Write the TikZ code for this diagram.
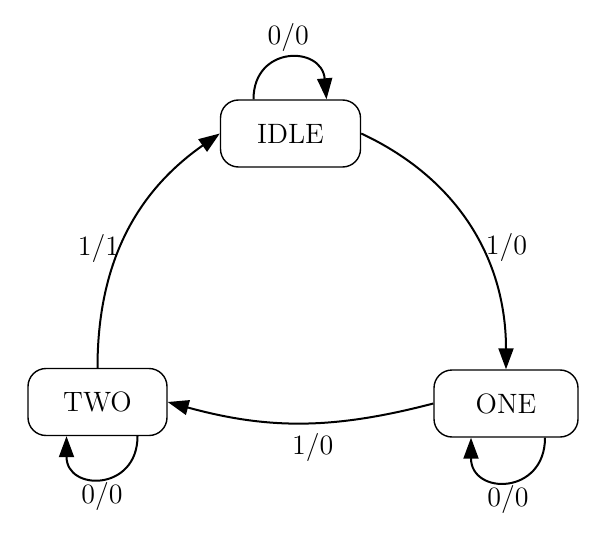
\documentclass[tikz,border=0pt]{standalone}
\usetikzlibrary{arrows.meta, positioning, calc}

\begin{document}
\begin{tikzpicture}[
    x=0.5pt, y=0.5pt,
    state/.style={draw, line width=0.7pt, rounded corners=9pt, minimum width=70pt, minimum height=33.5pt, align=center, font=\fontsize{14}{16}\selectfont},
    arrow/.style={-{Triangle[length=10.5pt, width=7.5pt]}, line width=1pt},
    lbl/.style={font=\fontsize{14}{16}\selectfont}
]
\useasboundingbox (0,0) rectangle (599,547);

% States
\node[state] (idle) at (290.5,413.5) {IDLE};
\node[state, minimum width=72pt] (one) at (506,143.5) {ONE};
\node[state, minimum width=69.5pt] (two) at (97.5,145) {TWO};

% Loop ends
\coordinate (idleL) at ($(idle.north)+(-37,0)$);
\coordinate (idleR) at ($(idle.north)+(36,0)$);
\coordinate (oneR) at ($(one.south)+(39,0)$);
\coordinate (oneL) at ($(one.south)+(-35,0)$);
\coordinate (twoR) at ($(two.south)+(40,0)$);
\coordinate (twoL) at ($(two.south)+(-31,0)$);

% Transitions
\draw[arrow] (idle.east) to[out=-25, in=90] node[lbl, pos=0.58, anchor=west, inner sep=2pt] {1/0} (one.north);
\draw[arrow] (one.west) to[bend left=15] node[lbl, pos=0.45, below, inner sep=5pt] {1/0} (two.east);
\draw[arrow] (two.north) to[out=90, in=-145, looseness=1.0] node[lbl, pos=0.44, anchor=east, inner sep=0pt] {1/1} (idle.west);

% Self loops
\draw[arrow] (idleL) to[out=90, in=95, looseness=1.9] node[lbl, above] {0/0} (idleR);
\draw[arrow] (oneR) to[out=-90, in=-90, looseness=2.0] node[lbl, below, inner sep=2pt] {0/0} (oneL);
\draw[arrow] (twoR) to[out=-90, in=-90, looseness=2.0] node[lbl, below, inner sep=2pt] {0/0} (twoL);

\end{tikzpicture}
\end{document}
